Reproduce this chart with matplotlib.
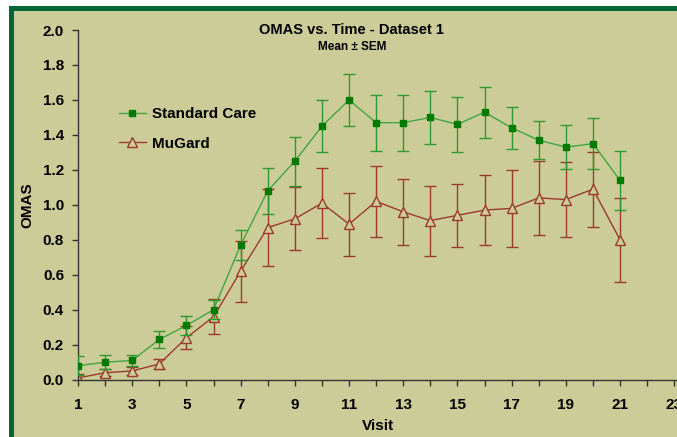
import matplotlib
matplotlib.use('Agg')
import matplotlib.pyplot as plt
from matplotlib.patches import Rectangle
from matplotlib.lines import Line2D

plt.rcParams['font.family'] = ['Liberation Sans', 'DejaVu Sans']

visits = list(range(1, 22))
standard_care = [0.08, 0.10, 0.11, 0.23, 0.31, 0.40, 0.77, 1.08, 1.25, 1.45, 1.60, 1.47, 1.47, 1.50,
                 1.46, 1.53, 1.44, 1.37, 1.33, 1.35, 1.14]
standard_care_sem = [0.055, 0.04, 0.03, 0.05, 0.055, 0.055, 0.085, 0.13, 0.14, 0.15, 0.15, 0.16, 0.16, 0.15,
                     0.155, 0.145, 0.12, 0.11, 0.125, 0.145, 0.17]
mugard = [0.01, 0.04, 0.05, 0.09, 0.24, 0.36, 0.62, 0.87, 0.92, 1.01, 0.89, 1.02, 0.96, 0.91,
          0.94, 0.97, 0.98, 1.04, 1.03, 1.09, 0.80]
mugard_sem = [0.02, 0.02, 0.025, 0.03, 0.065, 0.10, 0.175, 0.22, 0.18, 0.20, 0.18, 0.205, 0.19, 0.20,
              0.18, 0.20, 0.22, 0.21, 0.215, 0.215, 0.24]

bg = '#CCCC99'
green_line = '#3FA53F'
green_marker = '#007A00'
brown = '#9A3A2A'

fig = plt.figure(figsize=(6.77, 4.37), dpi=100, facecolor='white')
# khaki panel with green frame on top/left
fig.patches.append(Rectangle((10.5 / 677, -0.1), 1.2, 1.1 - 8.5 / 437,
                             transform=fig.transFigure, facecolor=bg, edgecolor='#006633',
                             linewidth=3.6, zorder=-1))

ax = fig.add_axes([78 / 677, 1 - 379.7 / 437, 1 - 78 / 677, 349.7 / 437])
ax.set_facecolor('none')

ax.errorbar(visits, standard_care, yerr=standard_care_sem, color=green_line, ecolor='#2E9A2E',
            elinewidth=1.0, capsize=4, capthick=1.0, marker='s', markersize=5,
            markerfacecolor=green_marker, markeredgecolor=green_marker, linewidth=1.0, zorder=3)
ax.errorbar(visits, mugard, yerr=mugard_sem, color=brown, ecolor=brown,
            elinewidth=1.0, capsize=4, capthick=1.0, marker='^', markersize=7,
            markerfacecolor=bg, markeredgecolor=brown, linewidth=1.0, zorder=2)

ax.set_xlim(1, 23.1)
ax.set_ylim(0, 2.0)
ax.set_xticks(range(1, 24))
ax.set_xticklabels([str(v) if v % 2 == 1 else '' for v in range(1, 24)])
ax.set_yticks([i * 0.2 for i in range(11)])
ax.set_yticklabels(['%.1f' % (i * 0.2) for i in range(11)])

for s in ['top', 'right']:
    ax.spines[s].set_visible(False)
for s in ['left', 'bottom']:
    ax.spines[s].set_color('#333333')
    ax.spines[s].set_linewidth(1.0)
ax.tick_params(axis='both', direction='out', length=4, width=1, color='#333333',
               labelsize=11, pad=6)
for lbl in ax.get_xticklabels() + ax.get_yticklabels():
    lbl.set_fontweight('bold')
ax.tick_params(axis='x', pad=9)

ax.set_xlabel('Visit', fontsize=11, fontweight='bold', labelpad=5)
ax.set_ylabel('OMAS', fontsize=11, fontweight='bold', labelpad=6)

fig.text(351 / 677, 1 - 30 / 437, 'OMAS vs. Time - Dataset 1', ha='center', va='center',
         fontsize=10.5, fontweight='bold')
fig.text(352 / 677, 1 - 47 / 437, 'Mean \u00b1 SEM', ha='center', va='center',
         fontsize=8.5, fontweight='bold')

handles = [
    Line2D([], [], color=green_line, marker='s', markersize=5, markerfacecolor=green_marker,
           markeredgecolor=green_marker, linewidth=1.0),
    Line2D([], [], color=brown, marker='^', markersize=7, markerfacecolor=bg,
           markeredgecolor=brown, linewidth=1.0),
]
leg = ax.legend(handles, ['Standard Care', 'MuGard'], loc='upper left',
                bbox_to_anchor=(0.045, 0.818), frameon=False, fontsize=11,
                handlelength=1.8, labelspacing=1.0, handletextpad=0.4)
for t in leg.get_texts():
    t.set_fontweight('bold')

fig.savefig('out.png', dpi=100, facecolor=fig.get_facecolor())
